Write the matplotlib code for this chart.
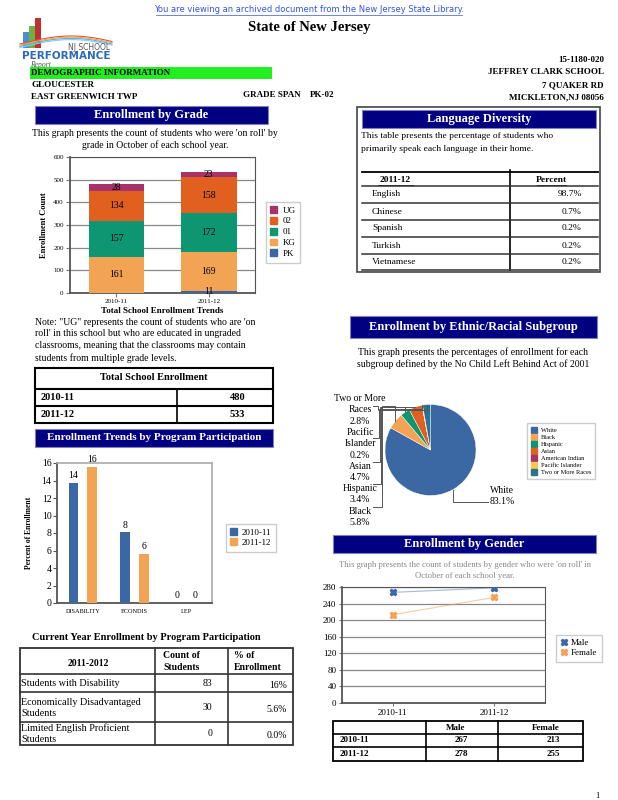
import matplotlib
matplotlib.use("Agg")
import matplotlib.pyplot as plt
from matplotlib.patches import Rectangle, Patch
from matplotlib.lines import Line2D
import numpy as np

# ---- data ----
years = ["2010-11", "2011-12"]
grades = ["PK", "KG", "01", "02", "UG"]
grade_counts = {
    "PK": [0, 11],
    "KG": [161, 169],
    "01": [157, 172],
    "02": [134, 158],
    "UG": [28, 23],
}
grade_colors = {"PK": "#3b67a3", "KG": "#f2a354", "01": "#0e9673",
                "02": "#e2601f", "UG": "#a8336a"}
total_enroll = [480, 533]

programs = ["DISABILITY", "ECONDIS", "LEP"]
prog_2010 = [13.7, 8.1, 0]
prog_2011 = [15.6, 5.6, 0]
prog_lbl_2010 = ["14", "8", "0"]
prog_lbl_2011 = ["16", "6", "0"]

languages = ["English", "Chinese", "Spanish", "Turkish", "Vietnamese"]
lang_pct = ["98.7%", "0.7%", "0.2%", "0.2%", "0.2%"]

groups = ["White", "Black", "Hispanic", "Asian", "American Indian",
          "Pacific Islander", "Two or More Races"]
group_pct = [83.1, 5.8, 3.4, 4.7, 0.0, 0.2, 2.8]
group_colors = ["#3b67a3", "#f2a354", "#0e9673", "#e2601f", "#a8336a",
                "#f9c74f", "#2b7391"]

male = [267, 278]
female = [213, 255]

cur_rows = ["Students with Disability", "Economically Disadvantaged\nStudents",
            "Limited English Proficient\nStudents"]
cur_count = ["83", "30", "0"]
cur_pct = ["16%", "5.6%", "0.0%"]

W, H = 618, 800
NAVY = "#000080"
SERIF = "Liberation Serif"
plt.rcParams["font.family"] = SERIF

fig = plt.figure(figsize=(6.18, 8), dpi=100)
fig.patch.set_facecolor("white")


def fx(x):
    return x / W


def fy(y):
    return 1 - y / H


def txt(x, y, s, **kw):
    kw.setdefault("va", "center")
    kw.setdefault("fontsize", 7)
    return fig.text(fx(x), fy(y), s, **kw)


def rect(x0, y0, x1, y1, **kw):
    fig.add_artist(Rectangle((fx(x0), fy(y1)), fx(x1) - fx(x0), fy(y0) - fy(y1),
                             transform=fig.transFigure, **kw))


def line(xs, ys, **kw):
    kw.setdefault("color", "black")
    kw.setdefault("lw", 1)
    fig.add_artist(Line2D([fx(v) for v in xs], [fy(v) for v in ys],
                          transform=fig.transFigure, **kw))


def add_ax(x0, y0, x1, y1):
    return fig.add_axes([fx(x0), fy(y1), fx(x1) - fx(x0), fy(y0) - fy(y1)])


def header(x0, y0, x1, y1, s, size=9):
    rect(x0, y0, x1, y1, facecolor=NAVY, edgecolor="#8080c0", lw=0.8)
    txt((x0 + x1) / 2, (y0 + y1) / 2, s, ha="center", color="white",
        fontsize=size, fontweight="bold")


# ---- page top ----
txt(309, 10, "You are viewing an archived document from the New Jersey State Library.",
    ha="center", color="#3355dd", fontsize=6, family="DejaVu Sans")
line([156, 462], [14.5, 14.5], color="#3355dd", lw=0.5)
txt(309, 28, "State of New Jersey", ha="center", fontsize=10.5, fontweight="bold")

# logo
for bx, bh, bc in [(23, 16, "#4a90d0"), (29, 22, "#70b040"), (35, 30, "#c03030")]:
    rect(bx, 48 - bh, bx + 6, 48, facecolor=bc, edgecolor="none")
tt = np.linspace(0, 1, 30)
for k, c in enumerate(["#e05050", "#f0b030", "#60b0e0", "#90c8f0"]):
    line(20 + 92 * tt, 44 - 8 * np.sin(np.pi * tt * 0.9) + k * 1.2, color=c, lw=0.8)
txt(110, 47, "NJ SCHOOL", ha="right", fontsize=5.5, color="#555", family="DejaVu Sans")
txt(66, 56, "PERFORMANCE", ha="center", fontsize=7.5, fontweight="bold",
    color="#2a6ab8", family="DejaVu Sans")
txt(30, 65, "Report", ha="left", fontsize=5.5, style="italic", color="#555")

rect(30, 67, 272, 79, facecolor="#22ee22", edgecolor="none")
txt(31, 73, "DEMOGRAPHIC INFORMATION", fontsize=6.5, fontweight="bold")
txt(31, 85, "GLOUCESTER", fontsize=6.5, fontweight="bold")
txt(31, 97, "EAST GREENWICH TWP", fontsize=6.5, fontweight="bold")
txt(243, 95, "GRADE SPAN", fontsize=6.5, fontweight="bold")
txt(310, 95, "PK-02", fontsize=6.5, fontweight="bold")
for yy, s in [(60, "15-1180-020"), (72, "JEFFREY CLARK SCHOOL"),
              (85, "7 QUAKER RD"), (97, "MICKLETON,NJ 08056")]:
    txt(604, yy, s, ha="right", fontsize=6.5, fontweight="bold")

# ---- Enrollment by Grade ----
header(35, 106, 268, 124, "Enrollment by Grade")
txt(155, 133, "This graph presents the count of students who were 'on roll' by",
    ha="center")
txt(155, 145, "grade in October of each school year.", ha="center")

ax = add_ax(70, 157, 255, 293)
xg = np.arange(len(years))
bottom = np.zeros(len(years))
for g in grades:
    vals = np.array(grade_counts[g], dtype=float)
    ax.bar(xg, vals, 0.6, bottom=bottom, color=grade_colors[g], zorder=3)
    for i, v in enumerate(vals):
        if v > 0:
            ax.text(xg[i], bottom[i] + v / 2, str(int(v)), ha="center",
                    va="center", fontsize=7, zorder=4)
    bottom += vals
ax.set_xlim(-0.5, 1.5)
ax.set_ylim(0, 600)
ax.set_yticks(range(0, 601, 100))
ax.set_xticks(xg)
ax.set_xticklabels(years)
ax.tick_params(labelsize=5, length=3, color="#777", pad=1.5)
ax.yaxis.grid(True, color="#888", lw=0.9, zorder=0)
for s in ax.spines.values():
    s.set_color("#555")
ax.spines["left"].set_linewidth(1.3)
ax.spines["bottom"].set_linewidth(1.3)
ax.set_ylabel("Enrollment Count", fontsize=6, fontweight="bold", labelpad=4)
ax.set_xlabel("Total School Enrollment Trends", fontsize=6.5, fontweight="bold",
              labelpad=2)
leg_h = [Patch(color=grade_colors[g]) for g in grades[::-1]]
fig.legend(leg_h, grades[::-1], loc="upper left",
           bbox_to_anchor=(fx(261), fy(197)), fontsize=6.5, handlelength=0.8,
           handleheight=0.8, handletextpad=0.6, labelspacing=0.25,
           borderpad=0.5, fancybox=False, edgecolor="#ccc", framealpha=1)

txt(35, 322, "Note: \"UG\" represents the count of students who are 'on", ha="left")
txt(35, 334, "roll' in this school but who are educated in ungraded", ha="left")
txt(35, 346, "classrooms, meaning that the classrooms may contain", ha="left")
txt(35, 358, "students from multiple grade levels.", ha="left")

# total enrollment table
rect(35, 368, 273, 423, facecolor="none", edgecolor="black", lw=1.5)
line([35, 273], [389, 389], lw=1.5)
line([35, 273], [406, 406], lw=1.5)
line([177, 177], [389, 423], lw=1.2)
txt(154, 378, "Total School Enrollment", ha="center", fontsize=7.5, fontweight="bold")
for i, yy in enumerate([397.5, 414.5]):
    txt(41, yy, years[i], fontsize=7.5, fontweight="bold")
    txt(245, yy, str(total_enroll[i]), ha="right", fontsize=7.5, fontweight="bold")

# ---- Program participation trends ----
header(35, 429, 273, 447, "Enrollment Trends by Program Participation", size=8)
ax = add_ax(57, 463, 212, 603)
xp = np.arange(len(programs))
bw = 0.19
c1, c2 = "#3b67a3", "#f2a354"
ax.bar(xp - 0.18, prog_2010, bw, color=c1, zorder=3)
ax.bar(xp + 0.18, prog_2011, bw, color=c2, zorder=3)
for i in range(len(programs)):
    ax.text(xp[i] - 0.18, prog_2010[i] + 0.3, prog_lbl_2010[i], ha="center",
            va="bottom", fontsize=7)
    ax.text(xp[i] + 0.18, prog_2011[i] + 0.3, prog_lbl_2011[i], ha="center",
            va="bottom", fontsize=7)
ax.set_xlim(-0.5, 2.5)
ax.set_ylim(0, 16)
ax.set_yticks(range(0, 17, 2))
ax.set_xticks(xp)
ax.set_xticklabels(programs, fontsize=4.5)
ax.tick_params(axis="y", labelsize=7, length=3, color="#555", pad=1)
ax.tick_params(axis="x", length=0, pad=4)
for s in ["top", "right"]:
    ax.spines[s].set_color("#aaa")
    ax.spines[s].set_linewidth(1.2)
for s in ["left", "bottom"]:
    ax.spines[s].set_color("#555")
    ax.spines[s].set_linewidth(1.3)
ax.set_ylabel("Percent of Enrollment", fontsize=5.5, fontweight="bold", labelpad=6)
fig.legend([Patch(color=c1), Patch(color=c2)], years, loc="upper left",
           bbox_to_anchor=(fx(221), fy(519)), fontsize=6.5, handlelength=0.8,
           handleheight=0.8, handletextpad=0.5, labelspacing=0.2, borderpad=0.5,
           fancybox=False, edgecolor="#ccc", framealpha=1)

# ---- Current year table ----
txt(146, 638, "Current Year Enrollment by Program Participation", ha="center",
    fontsize=7.5, fontweight="bold")
tx = [20, 155, 228, 293]
ty = [648, 674, 692, 722, 745]
rect(tx[0], ty[0], tx[-1], ty[-1], facecolor="none", edgecolor="#333", lw=1.3)
for yy in ty[1:-1]:
    line([tx[0], tx[-1]], [yy, yy], color="#333", lw=1.2)
for xx in tx[1:-1]:
    line([xx, xx], [ty[0], ty[-1]], color="#333", lw=1.2)
txt(88, 663, "2011-2012", ha="center", fontsize=7, fontweight="bold")
txt(163, 655, "Count of", fontsize=7, fontweight="bold")
txt(163, 668, "Students", fontsize=7, fontweight="bold")
txt(234, 655, "% of", fontsize=7, fontweight="bold")
txt(234, 668, "Enrollment", fontsize=7, fontweight="bold")
row_mid = [684, 708, 734]
for i in range(3):
    txt(21, row_mid[i], cur_rows[i], fontsize=7.3, linespacing=1.25)
    txt(212, row_mid[i], cur_count[i], ha="right", fontsize=7)
    txt(287, row_mid[i] + 1, cur_pct[i], ha="right", fontsize=7)

# ---- Language diversity ----
rect(357, 107, 600, 272, facecolor="none", edgecolor="#444", lw=1.2)
header(362, 110, 596, 128, "Language Diversity")
txt(361, 136, "This table presents the percentage of students who", fontsize=6.8)
txt(361, 149, "primarily speak each language in their home.", fontsize=6.8)
line([362, 598], [172, 172], lw=1.3)
line([510, 510], [170, 270], lw=1.2)
txt(395, 180, "2011-12", ha="center", fontsize=6.8, fontweight="bold")
line([378, 413], [185, 185], lw=0.6)
txt(551, 180, "Percent", ha="center", fontsize=6.8, fontweight="bold")
line([537, 566], [185, 185], lw=0.6)
sep = [186, 203, 220, 237, 254, 270]
for yy in sep:
    line([362, 598], [yy, yy], color="#333", lw=1.1)
for i, lang in enumerate(languages):
    ym = (sep[i] + sep[i + 1]) / 2
    txt(372, ym, lang, fontsize=6.8)
    txt(582, ym, lang_pct[i], ha="right", fontsize=6.8)

# ---- Ethnic pie ----
header(350, 316, 597, 338, "Enrollment by Ethnic/Racial Subgroup")
txt(473, 352, "This graph presents the percentages of enrollment for each",
    ha="center")
txt(473, 364, "subgroup defined by the No Child Left Behind Act of 2001", ha="center")
pcx, pcy, pr = 430.5, 450, 45.5
axp = add_ax(pcx - pr, pcy - pr, pcx + pr, pcy + pr)
wedges, _ = axp.pie(group_pct, colors=group_colors, startangle=90,
                    counterclock=False, radius=1,
                    wedgeprops=dict(linewidth=0.3, edgecolor="white"))
axp.set_xlim(-1, 1)
axp.set_ylim(-1, 1)
axp.set_aspect("auto")

# labels and leader lines for small slices
lab_y = {"Two or More Races": (394, "Two or More\nRaces\n2.8%", 406),
         "Pacific Islander": (428, "Pacific\nIslander\n0.2%", 438),
         "Asian": (462, "Asian\n4.7%", 462),
         "Hispanic": (484, "Hispanic\n3.4%", 484),
         "Black": (507, "Black\n5.8%", 507)}
stub_x = {"Two or More Races": 378, "Pacific Islander": 379, "Asian": 380,
          "Hispanic": 381, "Black": 382}
for k, g in enumerate(groups):
    if g not in lab_y:
        continue
    w = wedges[k]
    ang = np.deg2rad((w.theta1 + w.theta2) / 2)
    ex = pcx + pr * np.cos(ang)
    ey = pcy - pr * np.sin(ang)
    ytop, lab, yl = lab_y[g]
    sx = stub_x[g]
    top_y = 405 + k * 0.8
    line([ex, ex, sx, sx, 373], [ey, top_y, top_y, yl, yl], color="#555", lw=0.7)
    txt(360, ytop, lab, ha="center", va="top", fontsize=7, linespacing=1.35)
line([453, 453, 488], [pcy - pr * np.sin(np.deg2rad(-62)), 502, 502],
     color="#555", lw=0.7)
txt(490, 496, "White\n83.1%", va="center", fontsize=7, linespacing=1.3)
fig.legend([Patch(color=c) for c in group_colors], groups, loc="upper left",
           bbox_to_anchor=(fx(524), fy(420)), fontsize=4.6, handlelength=1.0,
           handleheight=1.0, handletextpad=0.6, labelspacing=0.15,
           borderpad=0.6, fancybox=False, edgecolor="#ccc", framealpha=1)

# ---- Enrollment by gender ----
header(333, 535, 596, 553, "Enrollment by Gender")
txt(465, 565, "This graph presents the count of students by gender who were 'on roll' in",
    ha="center", fontsize=6.2, color="#888")
txt(465, 576, "October of each school year.", ha="center", fontsize=6.2, color="#888")
axg = add_ax(342, 587, 545, 703)
xs = np.arange(len(years))
axg.plot(xs, male, color="#3b67a3", alpha=0.45, lw=0.8, zorder=3)
axg.plot(xs, male, "X", color="#3b67a3", ms=5, mec="#3b67a3", lw=0, zorder=4)
axg.plot(xs, female, color="#f2a354", alpha=0.55, lw=0.8, zorder=3)
axg.plot(xs, female, "X", color="#f2a354", ms=5, lw=0, zorder=4)
axg.set_xlim(-0.5, 1.5)
axg.set_ylim(0, 280)
axg.set_yticks(range(0, 281, 40))
axg.set_xticks(xs)
axg.set_xticklabels(years)
axg.tick_params(labelsize=6.5, length=2, color="#777", pad=2)
axg.yaxis.grid(True, color="#888", lw=0.9, zorder=0)
for s in axg.spines.values():
    s.set_color("#555")
axg.spines["left"].set_linewidth(1.3)
axg.spines["bottom"].set_linewidth(1.3)
fig.legend([Line2D([], [], marker="X", color="#3b67a3", lw=0, ms=5),
            Line2D([], [], marker="X", color="#f2a354", lw=0, ms=5)],
           ["Male", "Female"], loc="upper left", bbox_to_anchor=(fx(551), fy(630)),
           fontsize=6.5, handlelength=0.8, handletextpad=0.4, labelspacing=0.2,
           borderpad=0.5, fancybox=False, edgecolor="#ccc", framealpha=1)

# gender table
gx = [333, 426, 498, 583]
gy = [721, 734, 747, 761]
rect(gx[0], gy[0], gx[-1], gy[-1], facecolor="none", edgecolor="black", lw=1.3)
for yy in gy[1:-1]:
    line([gx[0], gx[-1]], [yy, yy], lw=1.2)
for xx in gx[1:-1]:
    line([xx, xx], [gy[0], gy[-1]], lw=1.2)
txt(456, 727.5, "Male", ha="center", fontsize=6.5, fontweight="bold")
txt(546, 727.5, "Female", ha="center", fontsize=6.5, fontweight="bold")
for i in range(2):
    ym = (gy[i + 1] + gy[i + 2]) / 2
    txt(340, ym, years[i], fontsize=6.5, fontweight="bold")
    txt(468, ym, str(male[i]), ha="right", fontsize=6.5, fontweight="bold")
    txt(560, ym, str(female[i]), ha="right", fontsize=6.5, fontweight="bold")

txt(597, 796, "1", ha="center", fontsize=6)

fig.savefig("out.png", dpi=100)
